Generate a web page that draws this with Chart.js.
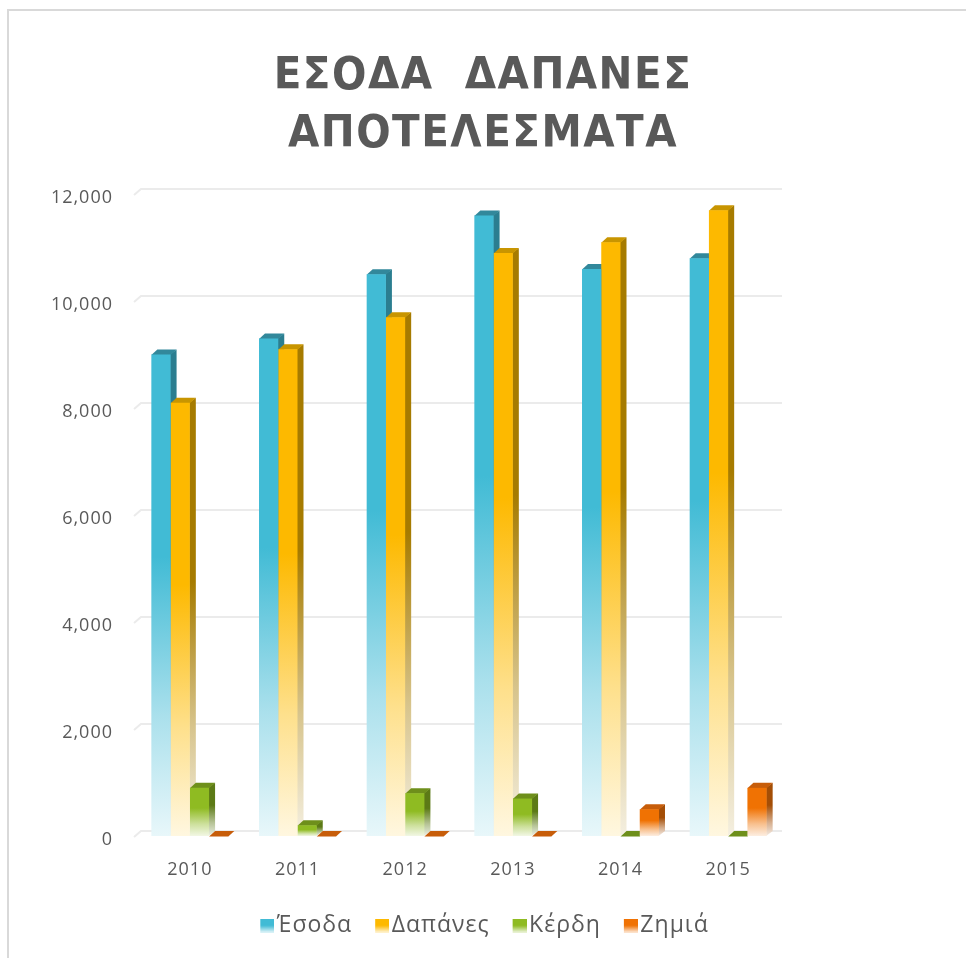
<!DOCTYPE html>
<html>
<head>
<meta charset="utf-8">
<script src="https://cdn.jsdelivr.net/npm/chart.js@4.4.1/dist/chart.umd.min.js"></script>
<style>
  html, body { margin: 0; padding: 0; background: #ffffff; overflow: hidden; }
  #wrap { position: relative; width: 966px; height: 958px; }
  #frame { position: absolute; left: 7px; top: 9px; width: 980px; height: 980px;
           border-left: 2px solid #d9d9d9; border-top: 2px solid #d9d9d9; pointer-events: none; }
  canvas { position: absolute; left: 0; top: 0; }
</style>
</head>
<body>
<div id="wrap">
  <canvas id="c" width="966" height="958"></canvas>
  <div id="frame"></div>
</div>
<script>
// ---- data ----
const years = ['2010', '2011', '2012', '2013', '2014', '2015'];
const esoda   = [9000, 9300, 10500, 11600, 10600, 10800];
const dapanes = [8100, 9100, 9700, 10900, 11100, 11700];
const kerdi   = [900, 200, 800, 700, 0, 0];
const zimia   = [0, 0, 0, 0, 500, 900];
const seriesNames = ['Έσοδα', 'Δαπάνες', 'Κέρδη', 'Ζημιά'];
const yTicks = [0, 2000, 4000, 6000, 8000, 10000, 12000];
const titleLines = ['ΕΣΟΔΑ  ΔΑΠΑΝΕΣ', 'ΑΠΟΤΕΛΕΣΜΑΤΑ'];

// ---- styles ----
const palette = [
  { front: '#41BBD5', side: '#2B7E90', top: '#32889B' },
  { front: '#FDB900', side: '#A67B00', top: '#C89500' },
  { front: '#8FBB22', side: '#5C7A16', top: '#6E8F1B' },
  { front: '#F07203', side: '#A44E06', top: '#C75D0A' }
];
const DX = 6, DY = 5;
const TEXT = '#595959';

function hexToRgb(h) {
  const n = parseInt(h.slice(1), 16);
  return [(n >> 16) & 255, (n >> 8) & 255, n & 255];
}
function mix(h, t) { // t = fraction of original colour kept, rest white
  const [r, g, b] = hexToRgb(h);
  const f = v => Math.round(v * t + 255 * (1 - t));
  return `rgb(${f(r)},${f(g)},${f(b)})`;
}
function fade(ctx, c, top, bot) {
  const g = ctx.createLinearGradient(0, top, 0, bot);
  g.addColorStop(0, c);
  g.addColorStop(0.42, c);
  g.addColorStop(0.75, mix(c, 0.45));
  g.addColorStop(1, mix(c, 0.12));
  return g;
}
function frontFill(i) {
  return (context) => {
    const chart = context.chart;
    const ys = chart.scales && chart.scales.y;
    const c = palette[i].front;
    if (!chart.chartArea || !ys || !context.parsed) return c;
    const top = ys.getPixelForValue(context.parsed.y);
    const bot = ys.getPixelForValue(0);
    if (bot - top < 1) return c;
    return fade(chart.ctx, c, top, bot);
  };
}

// legend swatches: small canvases used as point styles
function swatch(i) {
  const cv = document.createElement('canvas');
  cv.width = 26; cv.height = 14;
  const x = cv.getContext('2d');
  const g = x.createLinearGradient(0, 0, 0, 14);
  g.addColorStop(0, palette[i].front);
  g.addColorStop(0.5, palette[i].front);
  g.addColorStop(1, mix(palette[i].front, 0.15));
  x.fillStyle = g;
  x.fillRect(12, 0, 14, 14);
  return cv;
}
const swatches = [0, 1, 2, 3].map(swatch);

// 3D sides/tops + back-wall grid, drawn from the bar elements and the y scale
const bars3d = {
  id: 'bars3d',
  beforeUpdate(chart) { chart.ctx.letterSpacing = '1px'; },
  beforeDraw(chart) {
    chart.ctx.letterSpacing = '1px';
    const tb = chart.titleBlock;
    if (tb && !tb._lsWrapped) {
      const orig = tb.draw;
      tb.draw = function () {
        const c = this.ctx;
        const prev = c.letterSpacing;
        c.letterSpacing = '1.5px';
        orig.apply(this, arguments);
        c.letterSpacing = prev;
      };
      tb._lsWrapped = true;
    }
  },
  beforeDatasetsDraw(chart) {
    const ctx = chart.ctx;
    const ys = chart.scales.y;
    const area = chart.chartArea;
    // back wall gridlines
    ctx.save();
    ctx.strokeStyle = '#ebebeb';
    ctx.lineWidth = 2;
    ys.ticks.forEach(t => {
      const py = ys.getPixelForValue(t.value);
      ctx.beginPath();
      ctx.moveTo(area.left - 2, py + 1);
      ctx.lineTo(area.left + DX - 1, py - DY);
      ctx.lineTo(area.right, py - DY);
      ctx.stroke();
    });
    // sides and tops
    chart.data.datasets.forEach((ds, i) => {
      const meta = chart.getDatasetMeta(i);
      meta.data.forEach(el => {
        const p = el.getProps(['x', 'y', 'base', 'width'], true);
        const l = p.x - p.width / 2, r = p.x + p.width / 2;
        const top = Math.min(p.y, p.base), bot = Math.max(p.y, p.base);
        if (bot - top > 0.5) {
          ctx.fillStyle = fade(ctx, palette[i].side, top - DY, bot);
          ctx.beginPath();
          ctx.moveTo(r - 0.5, top);
          ctx.lineTo(r + DX, top - DY);
          ctx.lineTo(r + DX, bot - DY);
          ctx.lineTo(r - 0.5, bot);
          ctx.closePath();
          ctx.fill();
        }
        ctx.fillStyle = palette[i].top;
        ctx.beginPath();
        ctx.moveTo(l, top + 0.5);
        ctx.lineTo(l + DX, top - DY);
        ctx.lineTo(r + DX, top - DY);
        ctx.lineTo(r, top + 0.5);
        ctx.closePath();
        ctx.fill();
      });
    });
    ctx.restore();
  }
};

const seriesData = [esoda, dapanes, kerdi, zimia];

new Chart(document.getElementById('c'), {
  type: 'bar',
  data: {
    labels: years,
    datasets: seriesData.map((d, i) => ({
      label: seriesNames[i],
      data: d,
      backgroundColor: frontFill(i),
      borderWidth: 0,
      categoryPercentage: 0.715,
      barPercentage: 1.0
    }))
  },
  options: {
    responsive: false,
    animation: false,
    devicePixelRatio: 1,
    layout: { padding: { left: 0, right: 0, top: 0, bottom: 11 } },
    plugins: {
      tooltip: { enabled: false },
      title: {
        display: true,
        text: titleLines,
        color: TEXT,
        font: { family: "'Liberation Sans Narrow', 'DejaVu Sans Condensed', 'Liberation Sans', sans-serif", size: 45, weight: 'bold', lineHeight: 1.29 },
        padding: { top: 48, bottom: 30 }
      },
      legend: {
        position: 'bottom',
        labels: {
          color: TEXT,
          font: { family: "'Open Sans', sans-serif", size: 23 },
          usePointStyle: true,
          boxWidth: 8,
          boxHeight: 23,
          padding: 20,
          generateLabels: (chart) => chart.data.datasets.map((ds, i) => ({
            text: ds.label,
            fillStyle: palette[i].front,
            strokeStyle: palette[i].front,
            lineWidth: 0,
            pointStyle: swatches[i],
            fontColor: TEXT,
            hidden: false,
            datasetIndex: i
          }))
        }
      }
    },
    scales: {
      x: {
        grid: { display: false },
        border: { display: false },
        ticks: { color: TEXT, font: { family: "'Open Sans', sans-serif", size: 18 }, padding: 15 },
        afterFit: (s) => { s.height = 58; }
      },
      y: {
        min: 0,
        max: 12000,
        afterBuildTicks: (s) => { s.ticks = yTicks.map(v => ({ value: v })); },
        grid: { display: false },
        border: { display: false },
        ticks: {
          color: TEXT,
          font: { family: "'Open Sans', sans-serif", size: 18 },
          padding: 15,
          labelOffset: 4,
          callback: (v) => Number(v).toLocaleString('en-US')
        },
        afterFit: (s) => { s.width = 136; }
      },
      y2: {
        position: 'right',
        display: true,
        grid: { display: false },
        border: { display: false },
        ticks: { display: false },
        afterFit: (s) => { s.width = 184; }
      }
    }
  },
  plugins: [bars3d]
});
</script>
</body>
</html>
